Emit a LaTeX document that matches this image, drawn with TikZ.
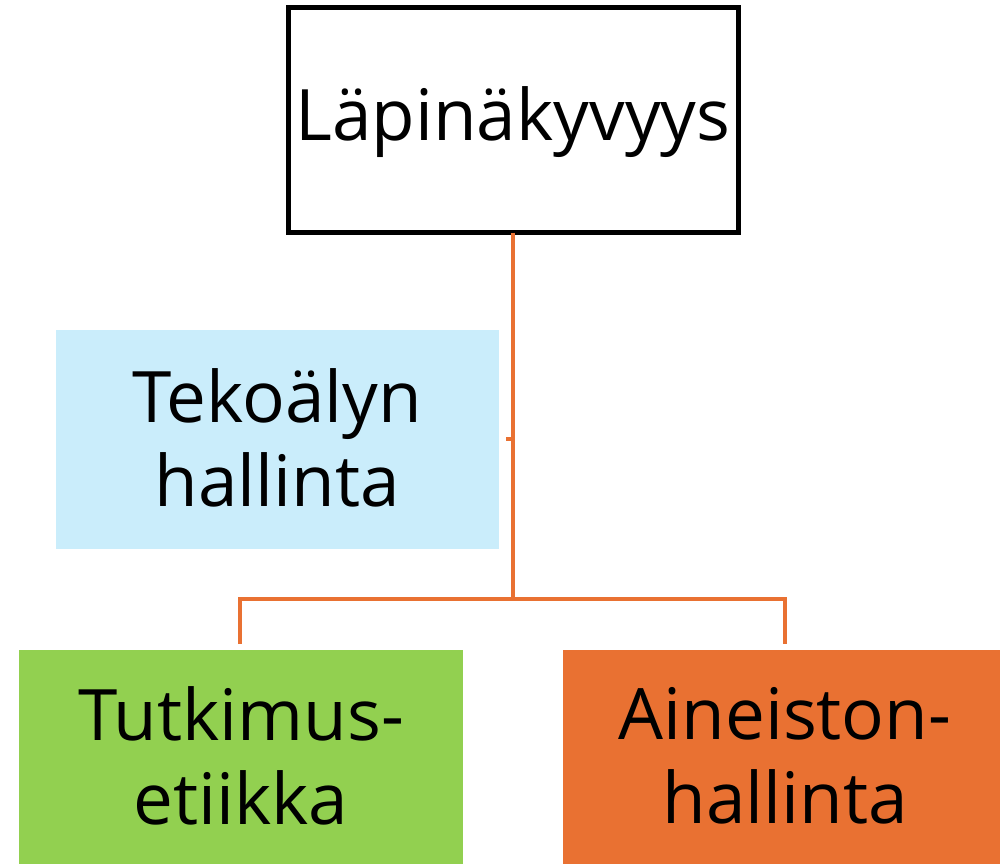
\documentclass[tikz,border=0pt]{standalone}
\usepackage{fontspec}
\setmainfont{Open Sans}
\definecolor{acc}{HTML}{E97132}
\definecolor{lblue}{HTML}{CAEDFB}
\definecolor{lgreen}{HTML}{92D050}
\begin{document}
\begin{tikzpicture}[x=1pt,y=-1pt,
  lbl/.style={font=\fontsize{71}{84}\selectfont, align=center, text=black},
  conn/.style={draw=acc, line width=4pt}]
\useasboundingbox (0,0) rectangle (1000,864);
\fill[lblue] (56,330) rectangle (499,549);
\fill[lgreen] (19,650) rectangle (463,864);
\fill[acc] (563,650) rectangle (1000,864);
\draw[line width=5pt] (288,7.5) rectangle (738.5,232.5);
\node[lbl] (top) at (513,122) {Läpinäkyvyys};
\node[lbl] (ai) at (277,438) {Tekoälyn\\hallinta};
\node[lbl] (eth) at (241,756) {Tutkimus-\\etiikka};
\node[lbl] (data) at (785,756) {Aineiston-\\hallinta};
\coordinate (t0) at (512.5,232.5);
\coordinate (j) at (512.5,599);
\coordinate (tk) at (512.5,439);
\coordinate (tke) at (506,439);
\coordinate (l0) at (240,599);
\coordinate (l1) at (240,644);
\coordinate (r0) at (785,599);
\coordinate (r1) at (785,644);
\draw[conn] (t0) -- (j);
\draw[conn] (tk) -- (tke);
\draw[conn] (l1) -- (l0) -- (r0) -- (r1);
\end{tikzpicture}
\end{document}
